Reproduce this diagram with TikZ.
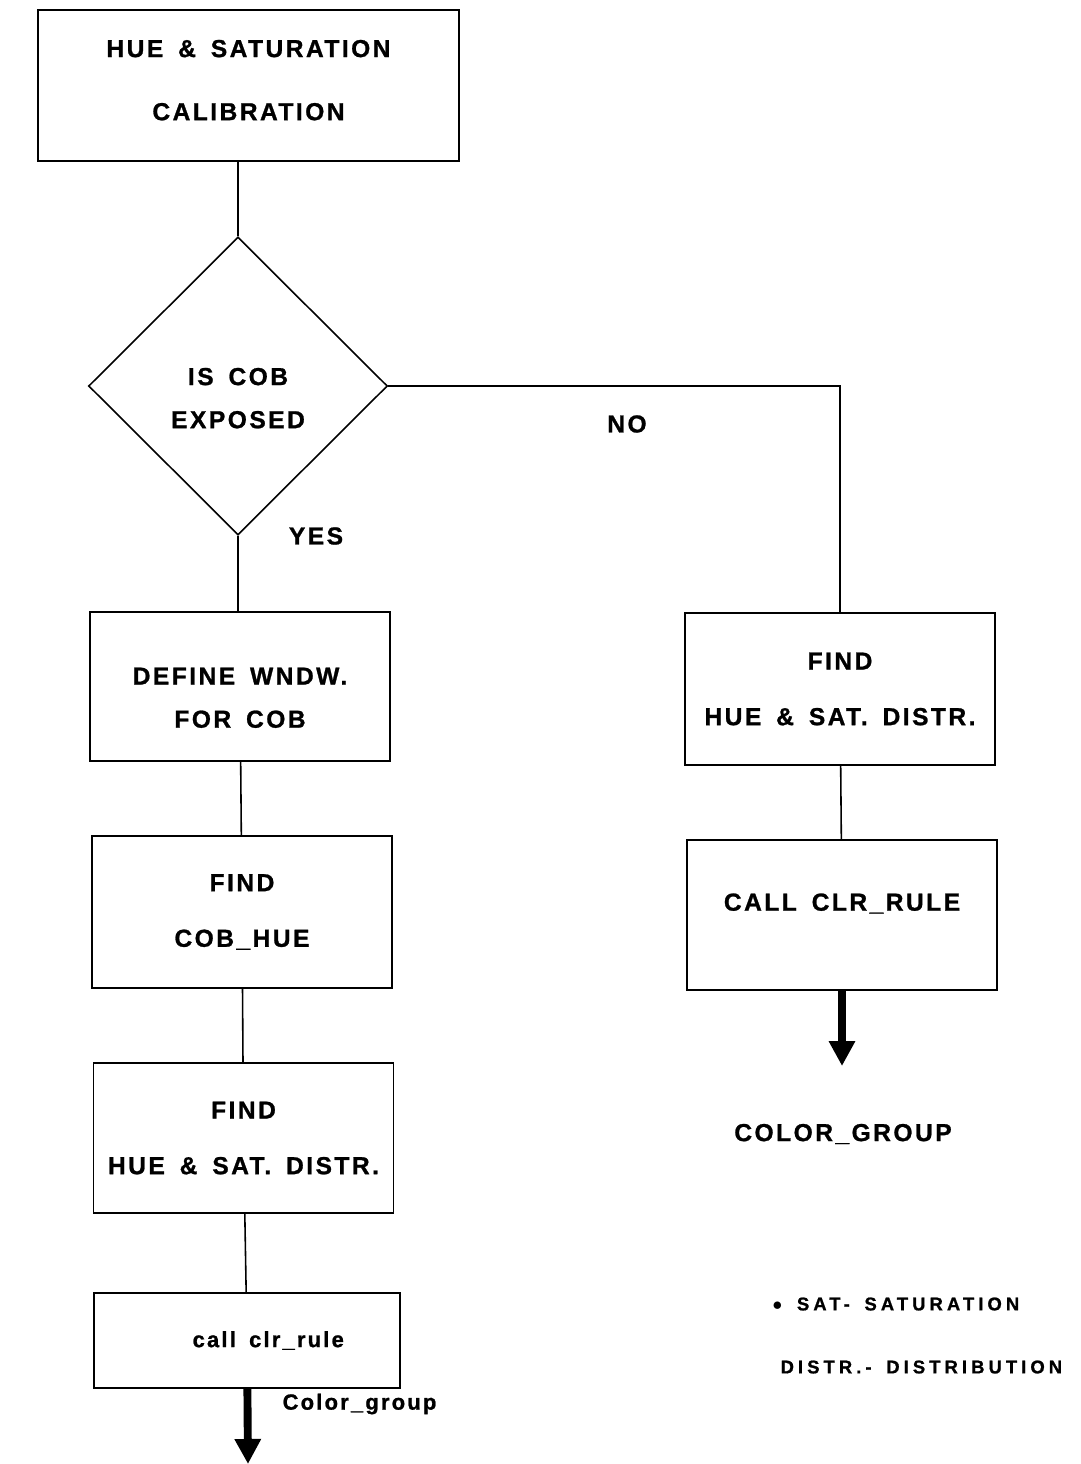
\documentclass[tikz,border=0pt]{standalone}
\usepackage{fontspec}
\setmainfont{Liberation Sans}
\newfontfamily\chartfont{Liberation Sans}[LetterSpace=10,WordSpace=1.6,FakeBold=1]
\newfontfamily\notefont{Liberation Sans}[LetterSpace=22,WordSpace=1.6,FakeBold=1]
\usetikzlibrary{arrows.meta,positioning,shapes}
\tikzset{
    block/.style={
    rectangle,draw=black,line width=0.9pt,minimum width=6cm,minimum height=3cm,align=center,
    font=\chartfont\bfseries\fontsize{14}{16}\selectfont
    },
    decide/.style={
    diamond,aspect=1,draw=black,line width=0.9pt,minimum width=5.98cm,minimum height=5.96cm,
    inner sep=0pt,align=center,font=\chartfont\bfseries\fontsize{14}{16}\selectfont
    },
    tag/.style={
    font=\chartfont\bfseries\fontsize{14}{16}\selectfont
    },
    note/.style={
    font=\notefont\bfseries\fontsize{10.5}{12}\selectfont,anchor=west
    },
    flow/.style={
    line width=4.5pt,-{Triangle[width=0.5cm,length=0.5cm]}
    },
}
\newcommand{\lowered}[2]{\raisebox{-#1}[\height][\depth]{\begin{tabular}{@{}c@{}}#2\end{tabular}}}

\begin{document}
\begin{tikzpicture}[x=0.02cm, y=-0.02cm, line width=0.9pt]
   \useasboundingbox (0,0) rectangle (1081,1464);
   % left column
   \node[block,minimum width=8.42cm,minimum height=3.02cm] (cal) at (248.5,85.5) {\lowered{-0.05cm}{HUE \& SATURATION\\[0.7cm] CALIBRATION}};
   \node[decide] (dec) at (238,386) {\lowered{0.3cm}{IS COB\\[0.3cm] EXPOSED}};
   \node[block,minimum height=2.98cm] (wndw) at (240,686.5) {\lowered{0.28cm}{DEFINE WNDW.\\[0.3cm] FOR COB}};
   \node[block,minimum height=3.04cm] (hue) at (242,912) {FIND\\[0.55cm] COB\_HUE};
   \node[block] (dist) at (243.5,1138) {FIND\\[0.55cm] HUE \& SAT. DISTR.};
   \node[block,minimum width=6.12cm,minimum height=1.9cm] (call) at (247,1340.5) {\hspace*{0.85cm}\fontsize{12.5}{14}\selectfont call clr\_rule};
   % right column
   \node[block,minimum width=6.2cm,minimum height=3.04cm] (rdist) at (840,689) {FIND\\[0.55cm] HUE \& SAT. DISTR.};
   \node[block,minimum width=6.2cm] (rcall) at (842,915) {\lowered{-0.2cm}{CALL CLR\_RULE}};
   \coordinate (out) at (248,1464);
   \coordinate (rout) at (842,1066);
   % labels
   \node[tag] (no) at (627,424) {NO};
   \node[tag] (yes) at (316,536) {YES};
   \node[tag] (grp) at (843,1134) {COLOR\_GROUP};
   \node[tag,anchor=west,font=\chartfont\bfseries\fontsize{12.5}{14}\selectfont] (lgrp) at (276,1404) {Color\_group};
   \node[note] (sat) at (766,1304) {$\bullet$ SAT- SATURATION};
   \node[note] (dstr) at (774,1367) {DISTR.- DISTRIBUTION};

  \path[-]
    (cal.south -| dec.north) edge (dec.north)
    (dec.south) edge (dec.south |- wndw.north)
    (wndw) edge (hue)
    (hue) edge (dist)
    (dist) edge (call)
    (rdist) edge (rcall);
  \draw (dec.east) -| (rdist.north);
  \draw[flow] (call) -- (out);
  \draw[flow] (rcall) -- (rout);
\end{tikzpicture}
\end{document}
